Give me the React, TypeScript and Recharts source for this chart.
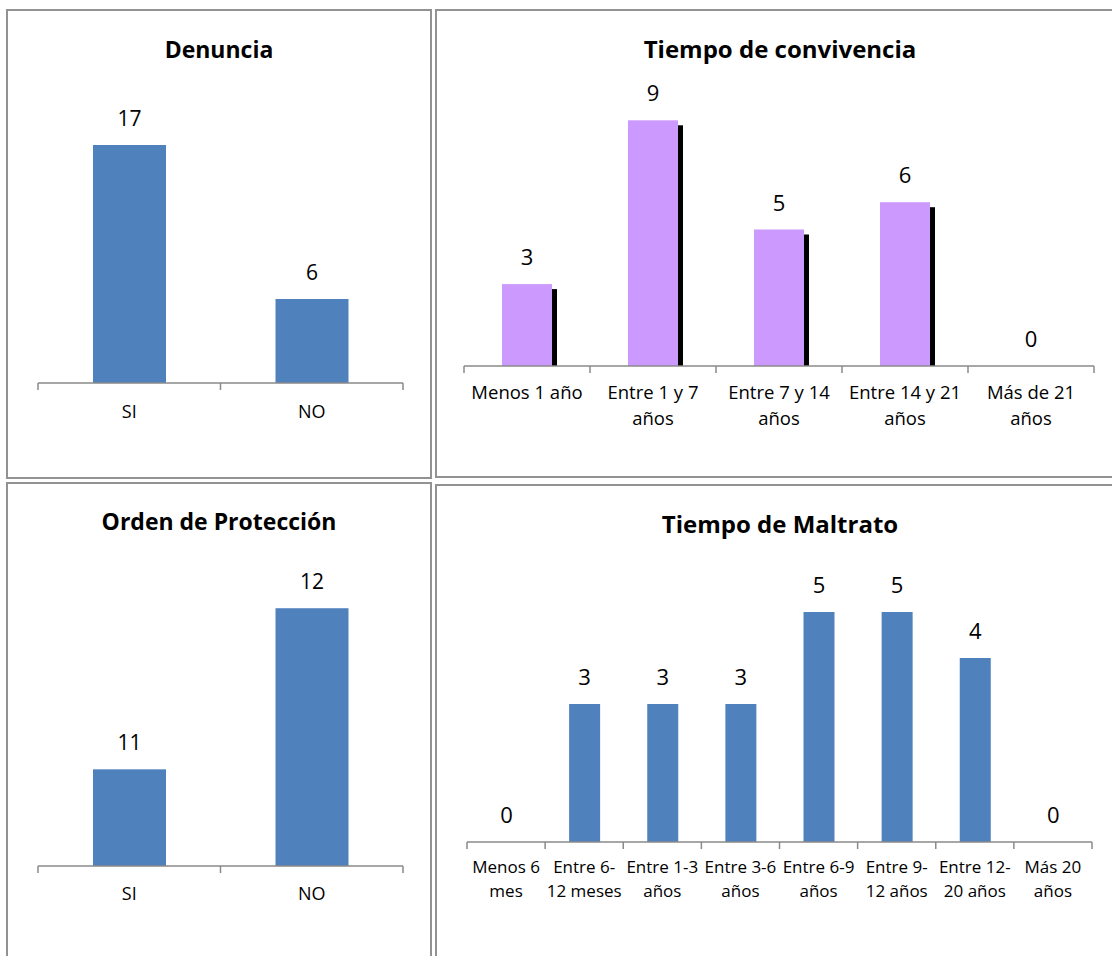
import React from 'react'
import { Bar, BarChart, LabelList, XAxis, YAxis } from 'recharts'

// values
const denunciaCats = ['SI', 'NO']
const denunciaValues = [17, 6]

const ordenCats = ['SI', 'NO']
const ordenValues = [11, 12]

const convivenciaCats = ['Menos 1 año', 'Entre 1 y 7\naños', 'Entre 7 y 14\naños', 'Entre 14 y 21\naños', 'Más de 21\naños']
const convivenciaValues = [3, 9, 5, 6, 0]

const maltratoCats = ['Menos 6\nmes', 'Entre 6-\n12 meses', 'Entre 1-3\naños', 'Entre 3-6\naños', 'Entre 6-9\naños', 'Entre 9-\n12 años', 'Entre 12-\n20 años', 'Más 20\naños']
const maltratoValues = [0, 3, 3, 3, 5, 5, 4, 0]

const FONT = "'Open Sans', sans-serif"
const AXIS = '#8a8a8a'
const BLUE = '#4F81BD'
const PURPLE = '#CC99FF'

// excel style bar with a black drop shadow behind it
const ShadowBar = (props: any) => {
  const { x, y, width, height, fill } = props
  if (!height) return null
  return (
    <g>
      <rect x={x + 5} y={y + 5} width={width} height={height - 4} fill="#000" />
      <rect x={x} y={y} width={width} height={height} fill={fill} />
    </g>
  )
}

const PlainBar = (props: any) => {
  const { x, y, width, height, fill } = props
  if (!height) return null
  return <rect x={x} y={y} width={width} height={height} fill={fill} />
}

// ticks sit on the category borders, labels in the middle
const makeTick = (band: number, count: number, labelY: number, fontSize: number, lineHeight: number) => (props: any) => {
  const { x, y, payload, index } = props
  const lines = String(payload.value).split('\n')
  return (
    <g>
      <line x1={x - band / 2} x2={x - band / 2} y1={y} y2={y + 7} stroke={AXIS} strokeWidth={1.5} />
      {index === count - 1 && <line x1={x + band / 2} x2={x + band / 2} y1={y} y2={y + 7} stroke={AXIS} strokeWidth={1.5} />}
      <text x={x} y={y + labelY} textAnchor="middle" fontSize={fontSize} fontFamily={FONT} fill="#000">
        {lines.map((l, i) => (
          <tspan key={i} x={x} dy={i === 0 ? 0 : lineHeight}>{l}</tspan>
        ))}
      </text>
    </g>
  )
}

type PanelProps = {
  left: number
  top: number
  width: number
  height: number
  cats: string[]
  values: number[]
  margin: { top: number; right: number; left: number }
  axisHeight: number
  domain: [number, number]
  barSize: number
  fill: string
  shadow?: boolean
  labelSize: number
  tickFont: number
  tickY: number
  lineHeight: number
}

const Panel = (p: PanelProps) => {
  const data = p.cats.map((c, i) => ({ name: c, value: p.values[i] }))
  const band = (p.width - p.margin.left - p.margin.right) / p.cats.length
  return (
    <div style={{ position: 'absolute', left: p.left, top: p.top }}>
      <BarChart width={p.width} height={p.height} data={data} margin={{ ...p.margin, bottom: 0 }}>
        <XAxis
          dataKey="name"
          height={p.axisHeight}
          axisLine={{ stroke: AXIS, strokeWidth: 1.5 }}
          tickLine={false}
          tickSize={0}
          tickMargin={0}
          interval={0}
          tick={makeTick(band, p.cats.length, p.tickY, p.tickFont, p.lineHeight)}
        />
        <YAxis hide domain={p.domain} allowDataOverflow />
        <Bar
          dataKey="value"
          fill={p.fill}
          barSize={p.barSize}
          isAnimationActive={false}
          shape={p.shadow ? ShadowBar : PlainBar}
        >
          <LabelList dataKey="value" position="top" offset={19} fontSize={p.labelSize} fontFamily={FONT} fill="#000" />
        </Bar>
      </BarChart>
    </div>
  )
}

const App = () => {
  return (
    <div style={{ position: 'absolute', left: 0, top: 0, width: 1112, height: 956, background: '#fff', overflow: 'hidden' }}>
      <svg width={1112} height={956} style={{ position: 'absolute', left: 0, top: 0 }}>
        <g fill="none" stroke="#929292" strokeWidth={2}>
          <rect x={7} y={10} width={424} height={468} />
          <rect x={7} y={483} width={424} height={480} />
          <rect x={436} y={10} width={690} height={467} />
          <rect x={436} y={485} width={690} height={480} />
        </g>
        <g fontFamily={FONT} fontWeight="bold" textAnchor="middle" fill="#000">
          <text x={219} y={58} fontSize={23}>Denuncia</text>
          <text x={219} y={530} fontSize={23}>Orden de Protección</text>
          <text x={780} y={58} fontSize={24}>Tiempo de convivencia</text>
          <text x={780} y={533} fontSize={24}>Tiempo de Maltrato</text>
        </g>
      </svg>

      <Panel left={7} top={10} width={424} height={468} cats={denunciaCats} values={denunciaValues}
        margin={{ top: 121, right: 28, left: 31 }} axisHeight={95} domain={[0, 18]} barSize={73} fill={BLUE}
        labelSize={21} tickFont={18} tickY={35} lineHeight={24} />

      <Panel left={7} top={483} width={424} height={473} cats={ordenCats} values={ordenValues}
        margin={{ top: 93, right: 28, left: 31 }} axisHeight={90} domain={[10.4, 12.2]} barSize={73} fill={BLUE}
        labelSize={21} tickFont={18} tickY={34} lineHeight={24} />

      <Panel left={436} top={10} width={676} height={467} cats={convivenciaCats} values={convivenciaValues}
        margin={{ top: 83, right: 18, left: 28 }} axisHeight={111} domain={[0, 10]} barSize={50} fill={PURPLE} shadow
        labelSize={22} tickFont={18.5} tickY={33} lineHeight={26} />

      <Panel left={436} top={485} width={676} height={471} cats={maltratoCats} values={maltratoValues}
        margin={{ top: 81, right: 20, left: 31 }} axisHeight={114} domain={[0, 6]} barSize={31} fill={BLUE}
        labelSize={22} tickFont={17} tickY={31} lineHeight={24} />
    </div>
  )
}

export default App
